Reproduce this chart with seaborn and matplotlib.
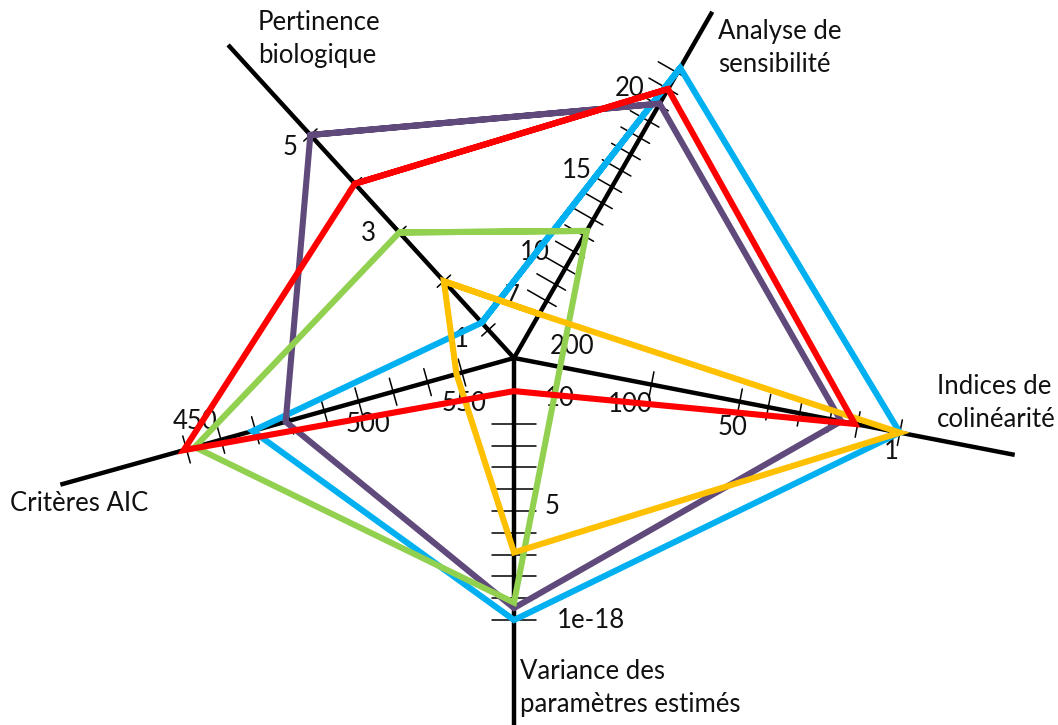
import numpy as np
import pandas as pd
import matplotlib
matplotlib.use("Agg")
import matplotlib.pyplot as plt
import seaborn as sns

# ---- axes of the radar (order: biology, sensitivity, collinearity, variance, AIC)
axis_titles = ["Pertinence\nbiologique", "Analyse de\nsensibilité", "Indices de\ncolinéarité",
               "Variance des\nparamètres estimés", "Critères AIC"]

# value -> distance from the centre (px), piecewise linear per axis
bio_scale = ([0.424, 1, 5, 6], [0, 38, 302, 368])
sens_scale = ([3.5, 10, 20, 24.7], [0, 122, 310, 398])
colin_scale = ([1, 10, 20, 30, 40, 50, 100, 200, 280], [393, 350, 322, 291, 259, 230, 140, 57, 0])
var_scale = ([0, 5, 10, 12], [262, 153, 44, 0.4])
aic_scale = ([430, 450, 500, 550, 568.9], [397, 340, 197, 54, 0])

# tick values
bio_ticks = [1, 2, 3, 4, 5]
sens_ticks = list(range(7, 22))
colin_ticks = [1, 10, 20, 30, 40, 50, 100]
var_ticks = list(range(0, 10))
aic_ticks = [450, 462.5, 475, 487.5, 500, 512.5, 525, 537.5, 550]

# tick labels
bio_labels = [(1, "1"), (3, "3"), (5, "5")]
sens_labels = [(7, "7"), (10, "10"), (15, "15"), (20, "20")]
colin_labels = [(200, "200"), (100, "100"), (50, "50"), (1, "1")]
var_labels = [(10, "10"), (5, "5"), (0, "1e-18")]
aic_labels = [(450, "450"), (500, "500"), (550, "550")]

# ---- series values (biology, sensitivity, collinearity, variance, AIC)
series_names = ["bleu", "violet", "vert", "jaune", "rouge"]
bleu = [1.15, 21.3, 1, 0, 474]
violet = [5, 19.1, 16, 0.55, 486]
vert = [3, 11.3, np.nan, 0.8, 453]
jaune = [2, 6.2, 1, 3.1, 548]
rouge = [4, 20, 11, 10.5, 449]
series_colors = ["#00B0F0", "#604A7B", "#92D050", "#FFC000", "#FF0000"]

# ---- layout
W, H = 1058, 725
center = np.array([514.0, 358.0])
angles = [132.4, 60.2, -10.95, -90.0, 195.6]          # degrees, counter-clockwise
lengths = [424, 399, 510, 367, 471]                   # drawn axis length (px)
scales = [bio_scale, sens_scale, colin_scale, var_scale, aic_scale]
ticks = [bio_ticks, sens_ticks, colin_ticks, var_ticks, aic_ticks]
tick_span = [(-9, 9), (-22, 11), (-13, 13), (-22, 22), (-14, 14)]
labels = [bio_labels, sens_labels, colin_labels, var_labels, aic_labels]
label_offsets = [
    [(-27, 10), (-31, 1), (-20, 13)],
    [(-35, -4), (-40, 0), (-44, 0), (-38, 0)],
    [(2, -22), (-21, 20), (-7, 26), (-8, 19)],
    [(31, -4), (31, -4), (43, 0)],
    [(9, -28), (44, 14), (2, 31)],
]
label_ha = ["center", "center", "center", "left", "center"]
title_pos = [(258, 10), (718, 19), (937, 374), (520, 659), (10, 491)]


def unit(i):
    a = np.deg2rad(angles[i])
    return np.array([np.cos(a), -np.sin(a)])   # screen coordinates (y down)


def normal(i):
    u = unit(i)
    return np.array([-u[1], u[0]])


def to_xy(i, v):
    r = np.interp(v, *scales[i])
    return center + r * unit(i)


sns.set_theme(style="white")
plt.rcParams["font.family"] = ["Lato", "DejaVu Sans"]
FS = 18.5

fig = plt.figure(figsize=(W / 100, H / 100), dpi=100)
ax = fig.add_axes([0, 0, 1, 1])
ax.set_xlim(0, W)
ax.set_ylim(H, 0)
ax.axis("off")

# axes, ticks and labels
for i in range(5):
    end = center + lengths[i] * unit(i)
    ax.plot([center[0], end[0]], [center[1], end[1]], color="black", lw=3.2,
            solid_capstyle="butt", zorder=2)
    n = normal(i)
    for t in ticks[i]:
        p = to_xy(i, t)
        a, b = p + tick_span[i][0] * n, p + tick_span[i][1] * n
        ax.plot([a[0], b[0]], [a[1], b[1]], color="black", lw=1.1, zorder=2)
    for (v, txt), (dx, dy) in zip(labels[i], label_offsets[i]):
        p = to_xy(i, v)
        ax.text(p[0] + dx, p[1] + dy, txt, fontsize=FS, ha=label_ha[i], va="center",
                color="#111111", zorder=1)
    ax.text(*title_pos[i], axis_titles[i], fontsize=FS, ha="left", va="top",
            color="#111111", linespacing=1.4, zorder=1)

# series polygons
rows = []
for name, vals in zip(series_names, [bleu, violet, vert, jaune, rouge]):
    pts = [to_xy(i, v) for i, v in enumerate(vals) if not np.isnan(v)]
    pts = pts + pts[:2]   # wrap round so the closing corner is joined cleanly
    for k, p in enumerate(pts):
        rows.append({"serie": name, "k": k, "x": p[0], "y": p[1]})
df = pd.DataFrame(rows)

for name, col in zip(series_names, series_colors):
    sub = df[df["serie"] == name]
    sns.lineplot(data=sub, x="x", y="y", sort=False, estimator=None, color=col,
                 lw=4.4, ax=ax, legend=False, zorder=3, solid_joinstyle="miter")

ax.set_xlim(0, W)
ax.set_ylim(H, 0)
ax.axis("off")
fig.savefig("out.png", dpi=100, facecolor="white")
